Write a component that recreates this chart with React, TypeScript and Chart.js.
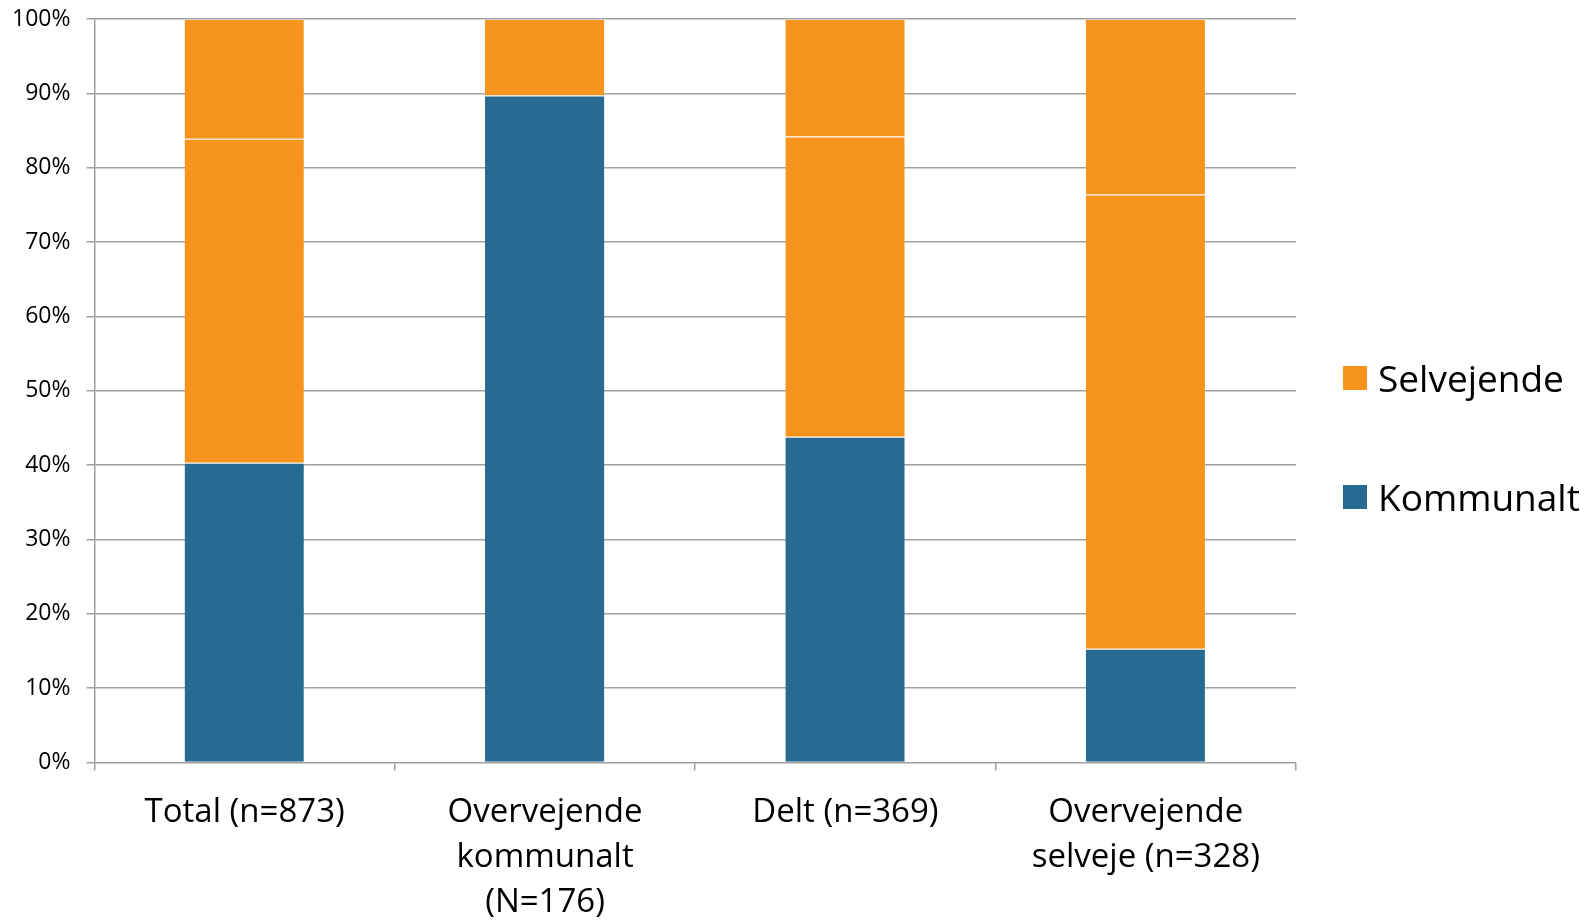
import React, { useEffect, useRef } from "react";
import { Chart, registerables } from "chart.js";

Chart.register(...registerables);

const categories: (string | string[])[] = [
  "Total (n=873)",
  ["Overvejende", "kommunalt", "(N=176)"],
  "Delt (n=369)",
  ["Overvejende", "selveje (n=328)"],
];

const kommunalt = [40.3, 89.7, 43.8, 15.3];
const selvejende = [43.6, 10.3, 40.4, 61.1];
const selvejendeOevrige = [16.1, 0, 15.8, 23.6];

const yTicks = [0, 10, 20, 30, 40, 50, 60, 70, 80, 90, 100];

const BLUE = "#276A92";
const ORANGE = "#F7941E";
const FONT = "'Open Sans', sans-serif";

const legendItems = [
  { label: "Selvejende", color: ORANGE },
  { label: "Kommunalt", color: BLUE },
];

export default function App() {
  const ref = useRef<HTMLCanvasElement | null>(null);

  useEffect(() => {
    if (!ref.current) return;
    const border = { top: 1, right: 1, left: 0, bottom: 0 };
    const chart = new Chart(ref.current, {
      type: "bar",
      data: {
        labels: categories,
        datasets: [
          {
            label: "Kommunalt",
            data: kommunalt,
            backgroundColor: BLUE,
            borderColor: "rgba(255,255,255,0.18)",
            borderWidth: border,
            borderSkipped: false,
          },
          {
            label: "Selvejende",
            data: selvejende,
            backgroundColor: ORANGE,
            borderColor: "rgba(255,255,255,0.14)",
            borderWidth: border,
            borderSkipped: false,
          },
          {
            label: "Selvejende (øvrige)",
            data: selvejendeOevrige,
            backgroundColor: ORANGE,
            borderColor: "rgba(255,255,255,0.14)",
            borderWidth: border,
            borderSkipped: false,
          },
        ],
      },
      options: {
        animation: false,
        responsive: true,
        maintainAspectRatio: false,
        datasets: { bar: { barPercentage: 0.4, categoryPercentage: 1 } },
        layout: { padding: { top: 19, left: -4, right: 293, bottom: -24.5 } },
        plugins: {
          legend: { display: false },
          tooltip: { enabled: false },
        },
        scales: {
          x: {
            stacked: true,
            grid: {
              display: true,
              offset: true,
              drawOnChartArea: false,
              drawTicks: true,
              tickLength: 8,
              color: "#a0a0a0",
              lineWidth: 1.5,
            },
            border: { display: false },
            ticks: {
              color: "#000",
              padding: 19.5,
              maxRotation: 0,
              autoSkip: false,
              font: { family: FONT, size: 33, lineHeight: 45 / 33 },
            },
          },
          y: {
            stacked: true,
            min: 0,
            max: 100,
            afterBuildTicks: (scale: any) => {
              scale.ticks = yTicks.map((v) => ({ value: v }));
            },
            grid: {
              color: "#a0a0a0",
              lineWidth: 1.5,
              drawTicks: true,
              tickLength: 8,
            },
            border: { display: true, color: "#a0a0a0", width: 1.5 },
            ticks: {
              color: "#000",
              padding: 16,
              callback: (v: any) => `${v}%`,
              font: { family: FONT, size: 23, lineHeight: "4px" },
            },
          },
        },
      },
    });
    return () => chart.destroy();
  }, []);

  return (
    <div
      style={{
        position: "absolute",
        left: 0,
        top: 0,
        width: 1589,
        height: 920,
        background: "#fff",
      }}
    >
      <canvas ref={ref} />
      <div
        style={{
          position: "absolute",
          left: 1343,
          top: 353,
          fontFamily: FONT,
          fontSize: 37,
          color: "#000",
        }}
      >
        {legendItems.map((it) => (
          <div
            key={it.label}
            style={{ display: "flex", alignItems: "center", height: 50, marginBottom: 69 }}
          >
            <span
              style={{
                display: "inline-block",
                width: 24,
                height: 24,
                background: it.color,
                marginRight: 11,
              }}
            />
            <span style={{ lineHeight: "50px" }}>{it.label}</span>
          </div>
        ))}
      </div>
    </div>
  );
}
